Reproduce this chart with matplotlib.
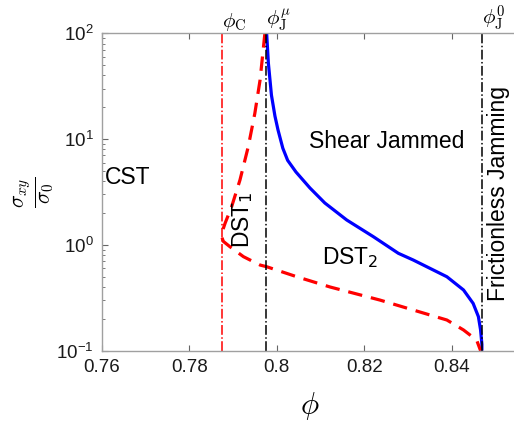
import math
import matplotlib
matplotlib.use("Agg")
import matplotlib.pyplot as plt
from matplotlib.ticker import FixedLocator, FuncFormatter, LogLocator, NullFormatter
import matplotlib.transforms as mtransforms

plt.rcParams['font.family'] = ['Liberation Sans', 'DejaVu Sans']

# data
phi_C = 0.7874
phi_J_mu = 0.7976
phi_J_0 = 0.8469

blue_phi = [0.7977, 0.7981, 0.7988, 0.7996, 0.8003, 0.8014, 0.8025, 0.8044,
            0.8076, 0.8110, 0.8160, 0.8221, 0.8278, 0.8312, 0.8389, 0.8427,
            0.8449, 0.8461, 0.8466, 0.8469, 0.8469]
blue_sigma = [100, 52.1, 26.0, 16.5, 12.2, 8.2, 6.3, 4.89,
              3.45, 2.49, 1.72, 1.195, 0.833, 0.72, 0.50, 0.375,
              0.28, 0.21, 0.157, 0.115, 0.1]

red_phi = [0.7973, 0.7962, 0.7950, 0.7935, 0.7916, 0.7897, 0.7882, 0.7876,
           0.7874, 0.7878, 0.7893, 0.7924, 0.7962, 0.7977, 0.8046, 0.8122,
           0.8236, 0.8312, 0.8389, 0.8427, 0.8457, 0.8466]
red_sigma = [100, 36.2, 17.5, 8.48, 4.1, 2.30, 1.60, 1.35,
             1.2, 1.08, 0.962, 0.774, 0.645, 0.622, 0.50, 0.40,
             0.301, 0.2425, 0.195, 0.157, 0.126, 0.1]

xticks = [0.76, 0.78, 0.80, 0.82, 0.84]
xticklabels = ['0.76', '0.78', '0.8', '0.82', '0.84']
yticks = [0.1, 1, 10, 100]

fig = plt.figure(figsize=(5.14, 4.22), dpi=100)
W, H = 514, 422
left, right, top, bottom = 101.7, 530.0, 33.3, 350.7
ax = fig.add_axes([left / W, 1 - bottom / H, (right - left) / W, (bottom - top) / H])

ax.plot(blue_phi, blue_sigma, color='#0000ff', lw=2.3, solid_capstyle='butt')
ax.plot(red_phi, red_sigma, color='#ff0000', lw=2.3, dashes=(4.5, 2.8))
ax.axvline(phi_C, color='#ff0000', lw=1.1, ls='-.')
ax.axvline(phi_J_mu, color='black', lw=1.1, ls='-.')
ax.axvline(phi_J_0, color='black', lw=1.1, ls='-.')

ax.set_yscale('log')
ax.set_xlim(0.76, 0.76 + (right - left) / 87.5 * 0.02)
ax.set_ylim(0.1, 100)
ax.xaxis.set_major_locator(FixedLocator(xticks))
ax.set_xticklabels(xticklabels)
ax.yaxis.set_major_locator(FixedLocator(yticks))
ax.yaxis.set_major_formatter(FuncFormatter(lambda v, p: r'$\mathregular{10^{%d}}$' % round(math.log10(v))))
ax.yaxis.set_minor_locator(LogLocator(base=10, subs=range(2, 10)))
ax.yaxis.set_minor_formatter(NullFormatter())
ax.tick_params(which='both', direction='in', top=True, right=True, labelsize=13.5,
               color='#666666', labelcolor='#1a1a1a')
ax.tick_params(axis='x', pad=6)
ax.tick_params(axis='y', pad=6)
ax.tick_params(which='major', length=4.5)
ax.tick_params(which='minor', length=2.5)
for s in ax.spines.values():
    s.set_color('#a0a0a0')
    s.set_linewidth(1.0)

ax.set_xlabel(r'$\phi$', fontsize=22, math_fontfamily='cm')
ax.xaxis.set_label_coords((310 - left) / (right - left), -(390 - bottom) / (bottom - top))
ax.set_ylabel(r'$\frac{\sigma_{xy}}{\sigma_0}$', fontsize=22, math_fontfamily='cm', rotation=90)
ax.yaxis.set_label_coords(-(left - 56) / (right - left), 0.5)

trans = mtransforms.blended_transform_factory(ax.transData, ax.transAxes)
for xv, lab in [(phi_C, r'$\phi_{\mathrm{C}}$'), (phi_J_mu, r'$\phi_{\mathrm{J}}^{\mu}$'),
                (phi_J_0, r'$\phi_{\mathrm{J}}^{0}$')]:
    ax.text(xv, 1.0, lab, transform=trans, ha='left', va='bottom',
            fontsize=15, math_fontfamily='cm')

fs = 16.5
ax.text(0.7660, 4.29, 'CST', fontsize=fs, ha='center', va='center')
ax.text(0.8252, 9.57, 'Shear Jammed', fontsize=fs, ha='center', va='center')
ax.text(0.7923, 1.75, r'DST$_1$', fontsize=fs, ha='center', va='center', rotation=90)
ax.text(0.8167, 0.76, r'DST$_2$', fontsize=fs, ha='center', va='center')
ax.text(0.8506, 3.07, 'Frictionless Jamming', fontsize=fs, ha='center', va='center', rotation=90)

fig.savefig('out.png', dpi=100)
